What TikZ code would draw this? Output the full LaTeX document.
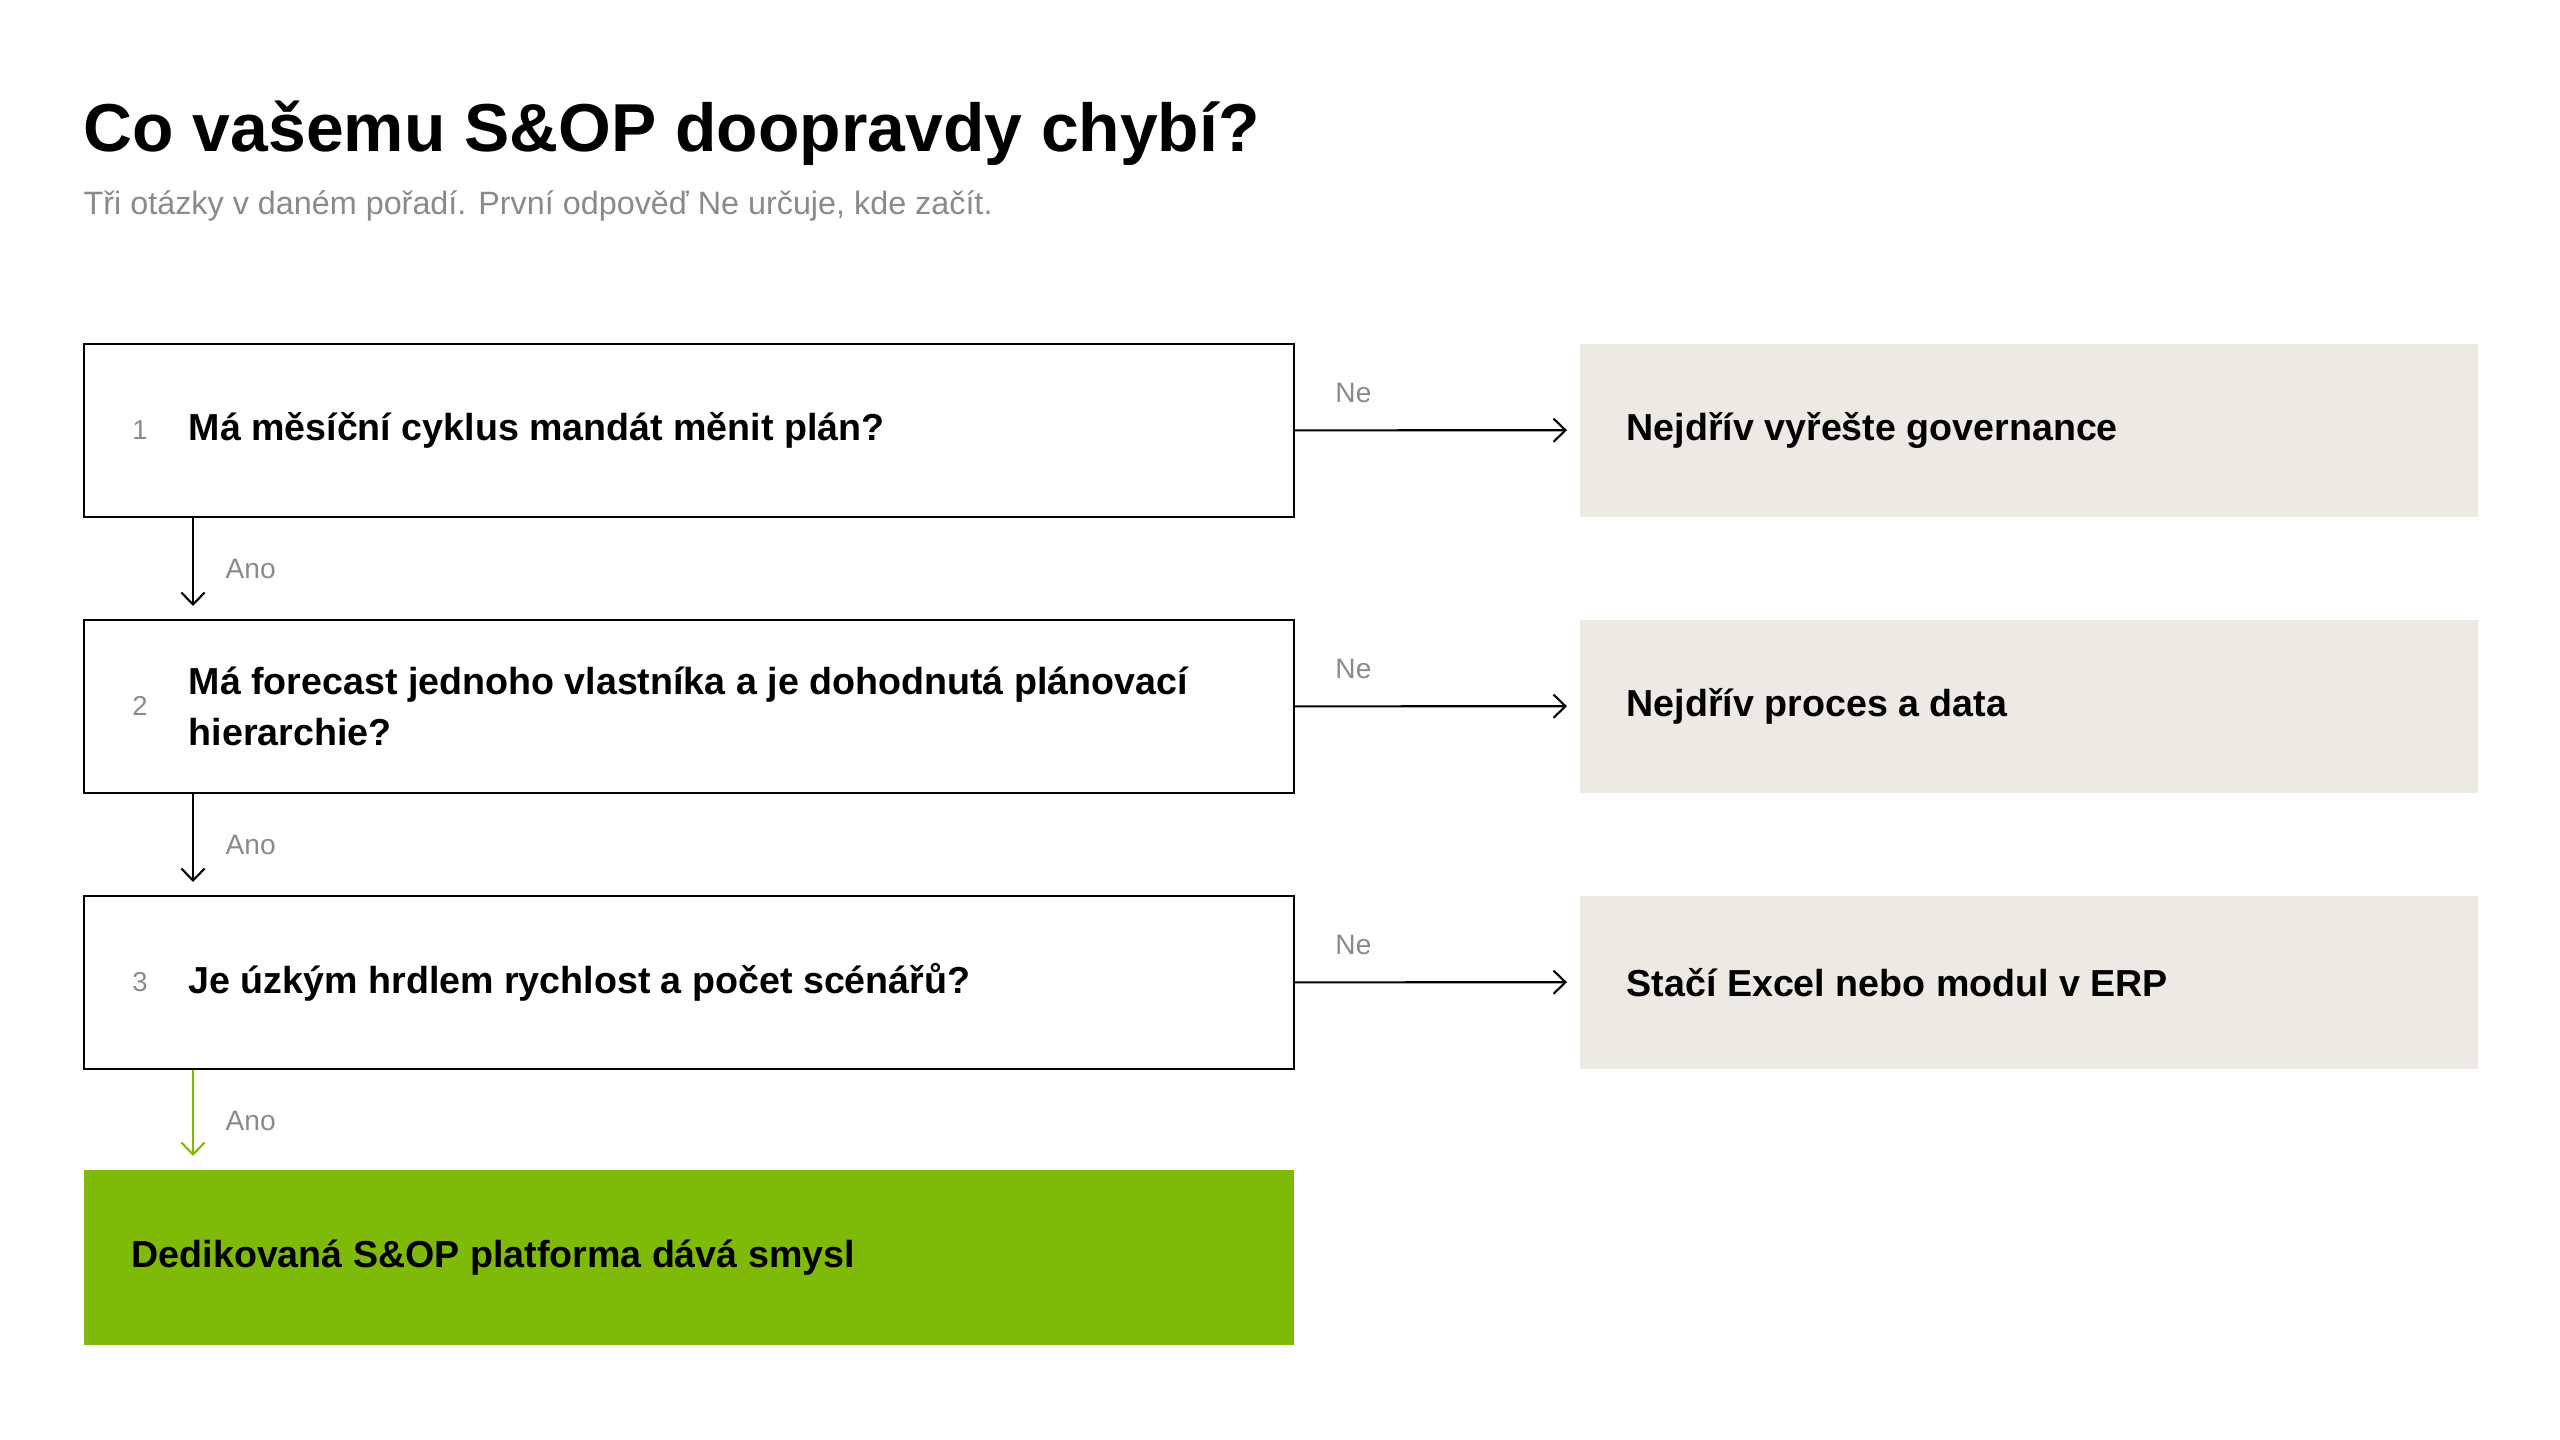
\documentclass[tikz,border=0pt]{standalone}
\usepackage{fontspec}
\setmainfont{Liberation Sans}
\usetikzlibrary{arrows.meta,calc}
\definecolor{sopgreen}{HTML}{80BA08}
\definecolor{sopbeige}{HTML}{ECEAE3}
\definecolor{sopgray}{HTML}{8A8A8A}
\begin{document}
\begin{tikzpicture}[x=0.1mm,y=-0.1mm,
    qbox/.style={draw=black,line width=0.5pt,minimum width=121mm,minimum height=17.3mm,anchor=north west,inner sep=0},
    abox/.style={fill=sopbeige,minimum width=89.8mm,minimum height=17.3mm,anchor=north west,inner sep=0},
    qtext/.style={anchor=west,font=\fontsize{10.7}{14.4}\selectfont\bfseries,align=left,inner sep=0},
    num/.style={font=\fontsize{7.8}{9}\selectfont,text=sopgray,inner sep=0},
    lbl/.style={font=\fontsize{8}{10}\selectfont,text=sopgray,anchor=west,inner sep=0},
    arr/.style={line width=0.6pt,-{Straight Barb[length=3.4pt,width=6.6pt]}}]
\useasboundingbox (0,0) rectangle (2560,1440);
\node[anchor=base west,inner sep=0,font=\fontsize{19.3}{24}\selectfont\bfseries] (title) at (83,152) {Co vašemu S\&OP doopravdy chybí?};
\node[anchor=base west,inner sep=0,font=\fontsize{9.2}{11}\selectfont,text=sopgray] (sub) at (83,215) {Tři otázky v daném pořadí. První odpověď Ne určuje, kde začít.};

\node[qbox] (q1) at (83,343) {};
\node[qbox] (q2) at (83,619) {};
\node[qbox] (q3) at (83,895) {};
\node[qbox,draw=none,fill=sopgreen,minimum height=17.5mm] (res) at (83,1169) {};
\node[abox] (a1) at (1579,343) {};
\node[abox] (a2) at (1579,619) {};
\node[abox] (a3) at (1579,895) {};

\node[num] (n1) at ($(q1.west)+(57,0)$) {1};
\node[num] (n2) at ($(q2.west)+(57,0)$) {2};
\node[num] (n3) at ($(q3.west)+(57,0)$) {3};
\node[qtext] (t1) at ($(q1.west)+(105,0)$) {Má měsíční cyklus mandát měnit plán?};
\node[qtext] (t2) at ($(q2.west)+(105,0)$) {Má forecast jednoho vlastníka a je dohodnutá plánovací\\hierarchie?};
\node[qtext] (t3) at ($(q3.west)+(105,0)$) {Je úzkým hrdlem rychlost a počet scénářů?};
\node[qtext] (tres) at ($(res.west)+(48,0)$) {Dedikovaná S\&OP platforma dává smysl};
\node[qtext] (ta1) at ($(a1.west)+(47,0)$) {Nejdřív vyřešte governance};
\node[qtext] (ta2) at ($(a2.west)+(47,0)$) {Nejdřív proces a data};
\node[qtext] (ta3) at ($(a3.west)+(47,0)$) {Stačí Excel nebo modul v ERP};

% Ne -> right
\draw[arr] (q1.east) -- ($(a1.west)+(-12,0)$);
\draw[arr] (q2.east) -- ($(a2.west)+(-12,0)$);
\draw[arr] (q3.east) -- ($(a3.west)+(-12,0)$);
\node[lbl] at ($(q1.east)+(40,-37)$) {Ne};
\node[lbl] at ($(q2.east)+(40,-37)$) {Ne};
\node[lbl] at ($(q3.east)+(40,-37)$) {Ne};

% Ano -> down
\draw[arr] ($(q1.south west)+(110,0)$) -- ($(q2.north west)+(110,-13)$);
\draw[arr] ($(q2.south west)+(110,0)$) -- ($(q3.north west)+(110,-13)$);
\draw[arr,draw=sopgreen] ($(q3.south west)+(110,0)$) -- ($(res.north west)+(110,-13)$);
\node[lbl] at ($(q1.south west)+(142,51)$) {Ano};
\node[lbl] at ($(q2.south west)+(142,51)$) {Ano};
\node[lbl] at ($(q3.south west)+(142,51)$) {Ano};
\end{tikzpicture}
\end{document}
